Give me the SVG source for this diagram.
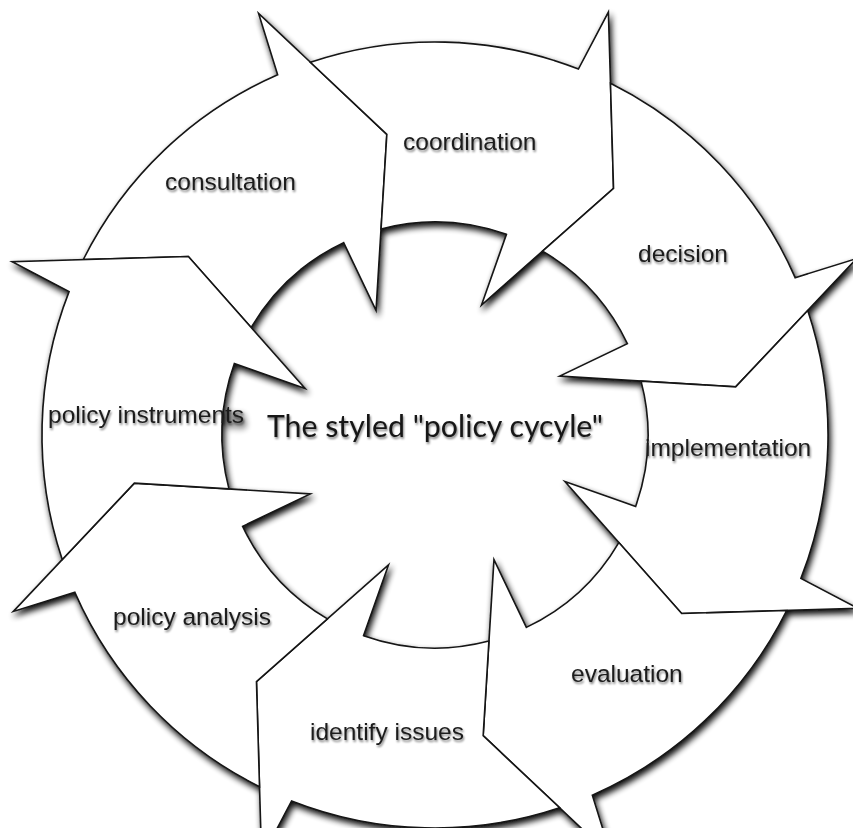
<svg xmlns="http://www.w3.org/2000/svg" xmlns:xlink="http://www.w3.org/1999/xlink" width="853" height="828" viewBox="0 0 853 828">
  <style>
    .seg { fill: #ffffff; stroke: #141414; stroke-width: 1.6; stroke-linejoin: miter; }
    .lbl { font-family: "Liberation Sans", Arial, sans-serif; font-size: 24.5px; fill: #1e1e1e; }
    .title { font-family: Lato, "Open Sans", sans-serif; font-size: 31px; fill: #151515; }
  </style>
  <defs>
    <!-- one curved block arrow of the ring, centred on the ring origin, tip at angle 0;
         the tail notch follows the head of the arrow before it -->
    <path id="arrow" class="seg"
          d="M228.9,-319.5 A393,393 0 0 1 380.5,-98.4 L444.2,-107.5 L304.5,0 L132.5,-38.5 L204.4,-59.8 A213,213 0 0 0 135.3,-164.5 L215.3,-215.3 Z"/>
    <filter id="drop" x="-10%" y="-10%" width="125%" height="125%">
      <feGaussianBlur in="SourceAlpha" stdDeviation="3.2"/>
      <feOffset dx="2" dy="4" result="off"/>
      <feComponentTransfer><feFuncA type="linear" slope="0.95"/></feComponentTransfer>
      <feMerge><feMergeNode/><feMergeNode in="SourceGraphic"/></feMerge>
    </filter>
    <filter id="tshadow" x="-10%" y="-30%" width="120%" height="170%">
      <feGaussianBlur in="SourceAlpha" stdDeviation="1.3"/>
      <feOffset dx="1" dy="2"/>
      <feComponentTransfer><feFuncA type="linear" slope="0.5"/></feComponentTransfer>
      <feMerge><feMergeNode/><feMergeNode in="SourceGraphic"/></feMerge>
    </filter>
  </defs>

  <rect width="853" height="828" fill="#ffffff"/>

  <g id="cycle" filter="url(#drop)">
    <g id="consultation">
      <use xlink:href="#arrow" href="#arrow" transform="translate(435 435) rotate(-99.1)"/>
      <text class="lbl" x="165" y="190" filter="url(#tshadow)">consultation</text>
    </g>
    <g id="coordination">
      <use xlink:href="#arrow" href="#arrow" transform="translate(435 435) rotate(-54.1)"/>
      <text class="lbl" x="403" y="150" filter="url(#tshadow)">coordination</text>
    </g>
    <g id="decision">
      <use xlink:href="#arrow" href="#arrow" transform="translate(435 435) rotate(-9.1)"/>
      <text class="lbl" x="638" y="262" filter="url(#tshadow)">decision</text>
    </g>
    <g id="implementation">
      <use xlink:href="#arrow" href="#arrow" transform="translate(435 435) rotate(35.9)"/>
      <text class="lbl" x="645" y="456" filter="url(#tshadow)">implementation</text>
    </g>
    <g id="evaluation">
      <use xlink:href="#arrow" href="#arrow" transform="translate(435 435) rotate(80.9)"/>
      <text class="lbl" x="571" y="682" filter="url(#tshadow)">evaluation</text>
    </g>
    <g id="identify-issues">
      <use xlink:href="#arrow" href="#arrow" transform="translate(435 435) rotate(125.9)"/>
      <text class="lbl" x="310" y="740" filter="url(#tshadow)">identify issues</text>
    </g>
    <g id="policy-analysis">
      <use xlink:href="#arrow" href="#arrow" transform="translate(435 435) rotate(170.9)"/>
      <text class="lbl" x="113" y="625" filter="url(#tshadow)">policy analysis</text>
    </g>
    <g id="policy-instruments">
      <use xlink:href="#arrow" href="#arrow" transform="translate(435 435) rotate(215.9)"/>
      <text class="lbl" x="48" y="423" filter="url(#tshadow)">policy instruments</text>
    </g>
  </g>

  <g id="title">
    <text class="title" x="267" y="437" textLength="336" lengthAdjust="spacingAndGlyphs" filter="url(#tshadow)">The styled "policy cycyle"</text>
  </g>
</svg>
